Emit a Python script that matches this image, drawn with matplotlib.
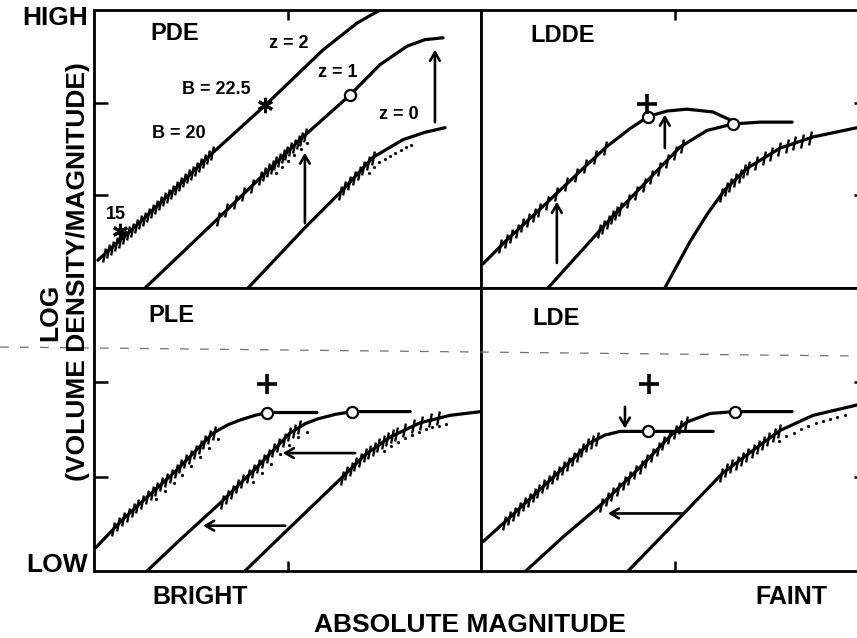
import numpy as np
import matplotlib
matplotlib.use('Agg')
import matplotlib.pyplot as plt
from matplotlib.lines import Line2D

plt.rcParams['font.family'] = ['Liberation Sans', 'DejaVu Sans']
plt.rcParams['font.weight'] = 'bold'

# ---------------- data (x: magnitude units 0-10 per panel, y: log density 0-3) -------------
# PDE
pde_z2_x = [0.10, 1.19, 3.07, 4.42, 5.92, 6.80, 7.39, 8.04]
pde_z2_y = [0.30, 0.71, 1.46, 1.97, 2.57, 2.86, 3.00, 3.19]
pde_z1_x = [1.32, 3.18, 5.32, 6.61, 7.39, 8.09, 8.55, 9.02]
pde_z1_y = [0.00, 0.74, 1.60, 2.08, 2.41, 2.61, 2.68, 2.70]
pde_z0_x = [3.98, 5.45, 6.43, 7.21, 7.98, 8.55, 9.07]
pde_z0_y = [0.00, 0.65, 1.06, 1.41, 1.60, 1.68, 1.73]
# LDDE
ldde_a_x = [0.05, 0.67, 1.60, 2.56, 3.26, 3.85, 4.32, 4.81, 5.32, 5.99, 6.56]
ldde_a_y = [0.26, 0.52, 0.88, 1.26, 1.53, 1.72, 1.85, 1.91, 1.93, 1.90, 1.79]
ldde_b_x = [1.73, 3.33, 5.14, 5.84, 6.51, 7.21, 8.04]
ldde_b_y = [0.00, 0.74, 1.52, 1.70, 1.77, 1.79, 1.79]
ldde_c_x = [4.75, 5.40, 5.85, 6.30, 6.87, 7.73, 8.58, 9.72, 10.05]
ldde_c_y = [0.00, 0.50, 0.80, 1.06, 1.29, 1.51, 1.63, 1.73, 1.75]
# PLE
ple_a_x = [0.05, 0.75, 2.14, 3.07, 3.46, 3.77, 4.16, 4.47, 5.76]
ple_a_y = [0.25, 0.55, 1.07, 1.46, 1.55, 1.60, 1.65, 1.68, 1.68]
ple_b_x = [1.37, 2.22, 3.26, 4.21, 5.06, 5.45, 5.76, 6.23, 6.67, 8.17]
ple_b_y = [0.00, 0.33, 0.72, 1.10, 1.46, 1.56, 1.61, 1.66, 1.69, 1.69]
ple_c_x = [3.90, 4.73, 6.43, 7.00, 7.65, 8.42, 9.20, 10.0]
ple_c_y = [0.00, 0.33, 1.00, 1.23, 1.42, 1.57, 1.65, 1.69]
# LDE
lde_a_x = [0.05, 0.67, 2.04, 2.82, 3.20, 3.59, 4.32, 6.00]
lde_a_y = [0.31, 0.54, 1.06, 1.36, 1.44, 1.48, 1.48, 1.48]
lde_b_x = [1.16, 2.09, 3.15, 4.11, 4.96, 5.32, 5.92, 6.56, 8.04]
lde_b_y = [0.00, 0.35, 0.72, 1.10, 1.46, 1.58, 1.67, 1.69, 1.69]
lde_c_x = [3.80, 4.63, 6.25, 7.13, 7.73, 8.58, 9.72, 10.05]
lde_c_y = [0.00, 0.35, 1.04, 1.31, 1.49, 1.65, 1.76, 1.78]

panels = {
    'PDE':  {'curves': {'a': (pde_z2_x, pde_z2_y), 'b': (pde_z1_x, pde_z1_y), 'c': (pde_z0_x, pde_z0_y)},
             'label': (2.09, 2.75),
             'hatch': [('a', 0.25, 3.05, 28), ('b', 3.2, 4.3, 6), ('b', 4.4, 5.45, 12), ('c', 6.35, 7.2, 8)],
             'dots': [('c', 7.0, 8.1, 9), ('b', 4.6, 5.4, 6)],
             'circles': [(6.61, 2.08)], 'plus': [], 'stars': [(0.67, 0.62), (4.42, 1.97)],
             'arrows': [((5.45, 0.70), (5.45, 1.46)), ((8.81, 1.79), (8.81, 2.57))]},
    'LDDE': {'curves': {'a': (ldde_a_x, ldde_a_y), 'b': (ldde_b_x, ldde_b_y), 'c': (ldde_c_x, ldde_c_y)},
             'label': (2.12, 2.73),
             'hatch': [('a', 0.5, 1.5, 8), ('a', 1.7, 3.2, 7), ('b', 3.05, 3.5, 5), ('b', 3.6, 5.2, 9),
                       ('c', 6.2, 6.8, 6), ('c', 6.9, 8.5, 9)],
             'dots': [],
             'circles': [(4.32, 1.85), (6.51, 1.77)], 'plus': [(4.29, 1.99)], 'stars': [],
             'arrows': [((1.96, 0.27), (1.96, 0.93)), ((4.75, 1.51), (4.75, 1.87))]},
    'PLE':  {'curves': {'a': (ple_a_x, ple_a_y), 'b': (ple_b_x, ple_b_y), 'c': (ple_c_x, ple_c_y)},
             'label': (1.99, 2.71),
             'hatch': [('a', 0.5, 3.1, 22), ('b', 3.3, 5.3, 16), ('c', 6.4, 7.7, 12), ('c', 7.8, 8.9, 6)],
             'dots': [('a', 1.5, 3.1, 8), ('b', 4.0, 5.4, 7), ('c', 7.4, 9.0, 10)],
             'circles': [(4.47, 1.68), (6.67, 1.69)], 'plus': [(4.47, 1.98)], 'stars': [],
             'arrows': [((6.75, 1.25), (4.88, 1.25)), ((4.94, 0.48), (2.82, 0.48))]},
    'LDE':  {'curves': {'a': (lde_a_x, lde_a_y), 'b': (lde_b_x, lde_b_y), 'c': (lde_c_x, lde_c_y)},
             'label': (1.94, 2.68),
             'hatch': [('a', 0.6, 3.0, 20), ('b', 3.1, 5.3, 16), ('c', 6.2, 7.7, 12)],
             'dots': [('c', 7.6, 9.3, 10)],
             'circles': [(4.32, 1.48), (6.56, 1.69)], 'plus': [(4.34, 1.98)], 'stars': [],
             'arrows': [((3.72, 1.74), (3.72, 1.51)), ((5.22, 0.61), (3.28, 0.61))]},
}

pde_texts = [('z = 2', 5.04, 2.64), ('B = 22.5', 3.15, 2.14), ('B = 20', 2.20, 1.67),
             ('15', 0.57, 0.79), ('z = 1', 6.30, 2.33), ('z = 0', 7.88, 1.87)]

# ---------------- layout ----------------
W, H = 857, 638
fig = plt.figure(figsize=(W / 100, H / 100), dpi=100)

def box(x0, x1, ytop, ybot):
    return [x0 / W, 1 - ybot / H, (x1 - x0) / W, (ybot - ytop) / H]

pos = {'PDE': box(94, 481, 10, 288), 'LDDE': box(481, 868, 10, 288),
       'PLE': box(94, 481, 288, 571), 'LDE': box(481, 868, 288, 571)}

hatch_marker = [(-0.2, -1.0), (0.2, 1.0)]

for name, p in panels.items():
    ax = fig.add_axes(pos[name])
    ax.set_xlim(0, 10)
    ax.set_ylim(0, 3)
    for s in ax.spines.values():
        s.set_linewidth(2.0)
    top = name in ('PDE', 'LDDE')
    left = name in ('PDE', 'PLE')
    ax.set_xticks([5])
    ax.set_yticks([1, 2])
    ax.tick_params(axis='x', direction='in', length=7, width=1.8,
                   top=top, bottom=not top, labeltop=False, labelbottom=False)
    ax.tick_params(axis='y', direction='in', length=10, width=1.8,
                   left=left, right=not left, labelleft=False, labelright=False)
    for key, (cx, cy) in p['curves'].items():
        ax.plot(cx, cy, color='k', lw=2.3, solid_capstyle='round', solid_joinstyle='round', zorder=3)
    for key, xa, xb, n in p['hatch']:
        cx, cy = p['curves'][key]
        hx = np.linspace(xa, xb, n)
        ax.plot(hx, np.interp(hx, cx, cy), ls='none', marker=hatch_marker, ms=10,
                mec='k', mew=1.7, zorder=4)
    for key, xa, xb, n in p['dots']:
        cx, cy = p['curves'][key]
        dx = np.linspace(xa, xb, n)
        ax.plot(dx + 0.1, np.interp(dx, cx, cy) - 0.07, ls='none', marker='.', ms=2.5,
                color='k', zorder=4)
    for (x, y) in p['circles']:
        ax.plot([x], [y], marker='o', ms=8, mfc='white', mec='k', mew=1.6, zorder=5)
    for (x, y) in p['plus']:
        ax.plot([x], [y], marker='+', ms=14, mec='k', mew=2.6, zorder=5)
    for (x, y) in p['stars']:
        ax.plot([x], [y], marker=(6, 2, 0), ms=11, mec='k', mew=2.2, zorder=5)
    for (tail, head) in p['arrows']:
        ax.annotate('', xy=head, xytext=tail,
                    arrowprops=dict(arrowstyle='->,head_length=0.6,head_width=0.35',
                                    lw=1.9, color='k', shrinkA=0, shrinkB=0), zorder=5)
    ax.text(p['label'][0], p['label'][1], name, fontsize=17, fontweight='bold',
            ha='center', va='center')
    if name == 'PDE':
        for t, x, y in pde_texts:
            ax.text(x, y, t, fontsize=13, fontweight='bold', ha='center', va='center')

# fold artifact of the scanned original
fig.add_artist(Line2D([0, 1], [1 - 347 / H, 1 - 356 / H], transform=fig.transFigure,
                      color='0.45', lw=0.9, ls=(0, (7, 9))))

# axis texts
fig.text(88 / W, 1 - 18 / H, 'HIGH', fontsize=19, fontweight='bold', ha='right', va='center')
fig.text(88 / W, 1 - 565 / H, 'LOW', fontsize=19, fontweight='bold', ha='right', va='center')
fig.text(50 / W, 1 - 312 / H, 'LOG', fontsize=19, fontweight='bold', rotation=90,
         ha='center', va='center')
fig.text(78 / W, 1 - 272 / H, '(VOLUME DENSITY/MAGNITUDE)', fontsize=19, fontweight='bold',
         rotation=90, ha='center', va='center')
fig.text(200 / W, 1 - 597 / H, 'BRIGHT', fontsize=18, fontweight='bold', ha='center', va='center')
fig.text(791 / W, 1 - 597 / H, 'FAINT', fontsize=18, fontweight='bold', ha='center', va='center')
fig.text(470 / W, 1 - 625 / H, 'ABSOLUTE MAGNITUDE', fontsize=19, fontweight='bold',
         ha='center', va='center')

fig.savefig('out.png', dpi=100)
